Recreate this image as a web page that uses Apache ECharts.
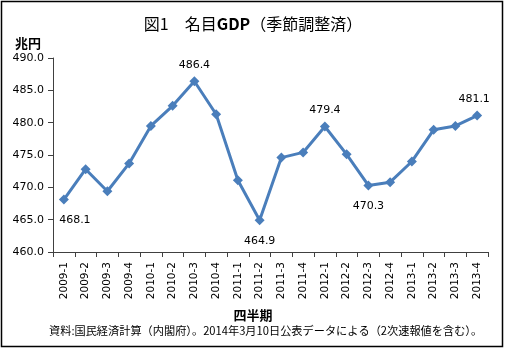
<!DOCTYPE html>
<html><head><meta charset="utf-8">
<script src="https://cdn.jsdelivr.net/npm/echarts@6/dist/echarts.min.js"></script>
<style>html,body{margin:0;padding:0;background:#fff}#c{width:506px;height:353px}</style>
</head><body><div id="c"></div>
<script>
const categories = ['2009-1','2009-2','2009-3','2009-4','2010-1','2010-2','2010-3','2010-4','2011-1','2011-2','2011-3','2011-4','2012-1','2012-2','2012-3','2012-4','2013-1','2013-2','2013-3','2013-4'];
const gdpValues = [468.1,472.8,469.4,473.7,479.5,482.6,486.4,481.3,471.1,464.9,474.6,475.4,479.4,475.1,470.3,470.8,474.0,478.9,479.5,481.1];
const labelAbove = ['2010-3','2012-1','2013-4'];
const labelBelow = ['2009-1','2011-2','2012-3'];
const yTicks = [460,465,470,475,480,485,490];

const CJK = '"Noto Sans CJK JP", sans-serif';
const chart = echarts.init(document.getElementById('c'), null, {renderer:'canvas'});
const data = gdpValues.map((v,i)=>{
  const c = categories[i];
  if (labelAbove.includes(c)) return {value:v, label:{show:true, position:'top', distance:6, offset: i===categories.length-1?[-3,0]:[0,0]}};
  if (labelBelow.includes(c)) return {value:v, label:{show:true, position:'bottom', distance:10, offset: i===0?[11,0]:[0,0]}};
  return v;
});
chart.setOption({
  animation:false,
  title:[
    {text:'{r|図1\u3000名目}{b|GDP}{r|（季節調整済）}', left:'center', top:11,
     textStyle:{fontWeight:'normal',rich:{r:{fontFamily:CJK,fontSize:16,fontWeight:'normal',color:'#000'},b:{fontFamily:CJK,fontSize:16,fontWeight:'bold',color:'#000'}}}},
    {text:'兆円', left:10, top:32, textStyle:{fontFamily:CJK,fontSize:13,fontWeight:'bold',color:'#000'}},
    {text:'四半期', left:'center', top:304, textStyle:{fontFamily:CJK,fontSize:13,fontWeight:'bold',color:'#000'}},
    {text:'資料:国民経済計算（内閣府）。2014年3月10日公表データによる（2次速報値を含む）。', left:44, top:320,
     textStyle:{fontFamily:CJK,fontSize:11.2,fontWeight:'normal',color:'#000'}}
  ],
  graphic:[{type:'rect', shape:{x:1.5,y:1.5,width:501,height:345}, style:{fill:'none',stroke:'#000',lineWidth:1.5}, silent:true}],
  grid:{left:53,right:18,top:58,bottom:101},
  xAxis:{type:'category', data:categories, boundaryGap:true,
    axisLine:{lineStyle:{color:'#404040'}},
    axisTick:{show:true, length:5, lineStyle:{color:'#404040'}},
    axisLabel:{rotate:90, fontFamily:'DejaVu Sans', fontSize:10.5, color:'#000', margin:10, interval:0}},
  yAxis:{type:'value', min:yTicks[0], max:yTicks[yTicks.length-1], interval:5,
    axisLine:{show:true, lineStyle:{color:'#404040'}},
    axisTick:{show:true, length:5, lineStyle:{color:'#404040'}},
    splitLine:{show:false},
    axisLabel:{fontFamily:'DejaVu Sans', fontSize:11, color:'#000', margin:9, formatter:v=>v.toFixed(1)}},
  series:[{type:'line', data:data, symbol:'diamond', symbolSize:10,
    lineStyle:{color:'#4a7ebb', width:3}, itemStyle:{color:'#4a7ebb'},
    label:{show:false, fontFamily:'DejaVu Sans', fontSize:11, color:'#000', formatter:p=>p.value.toFixed(1)}}]
});
</script></body></html>
